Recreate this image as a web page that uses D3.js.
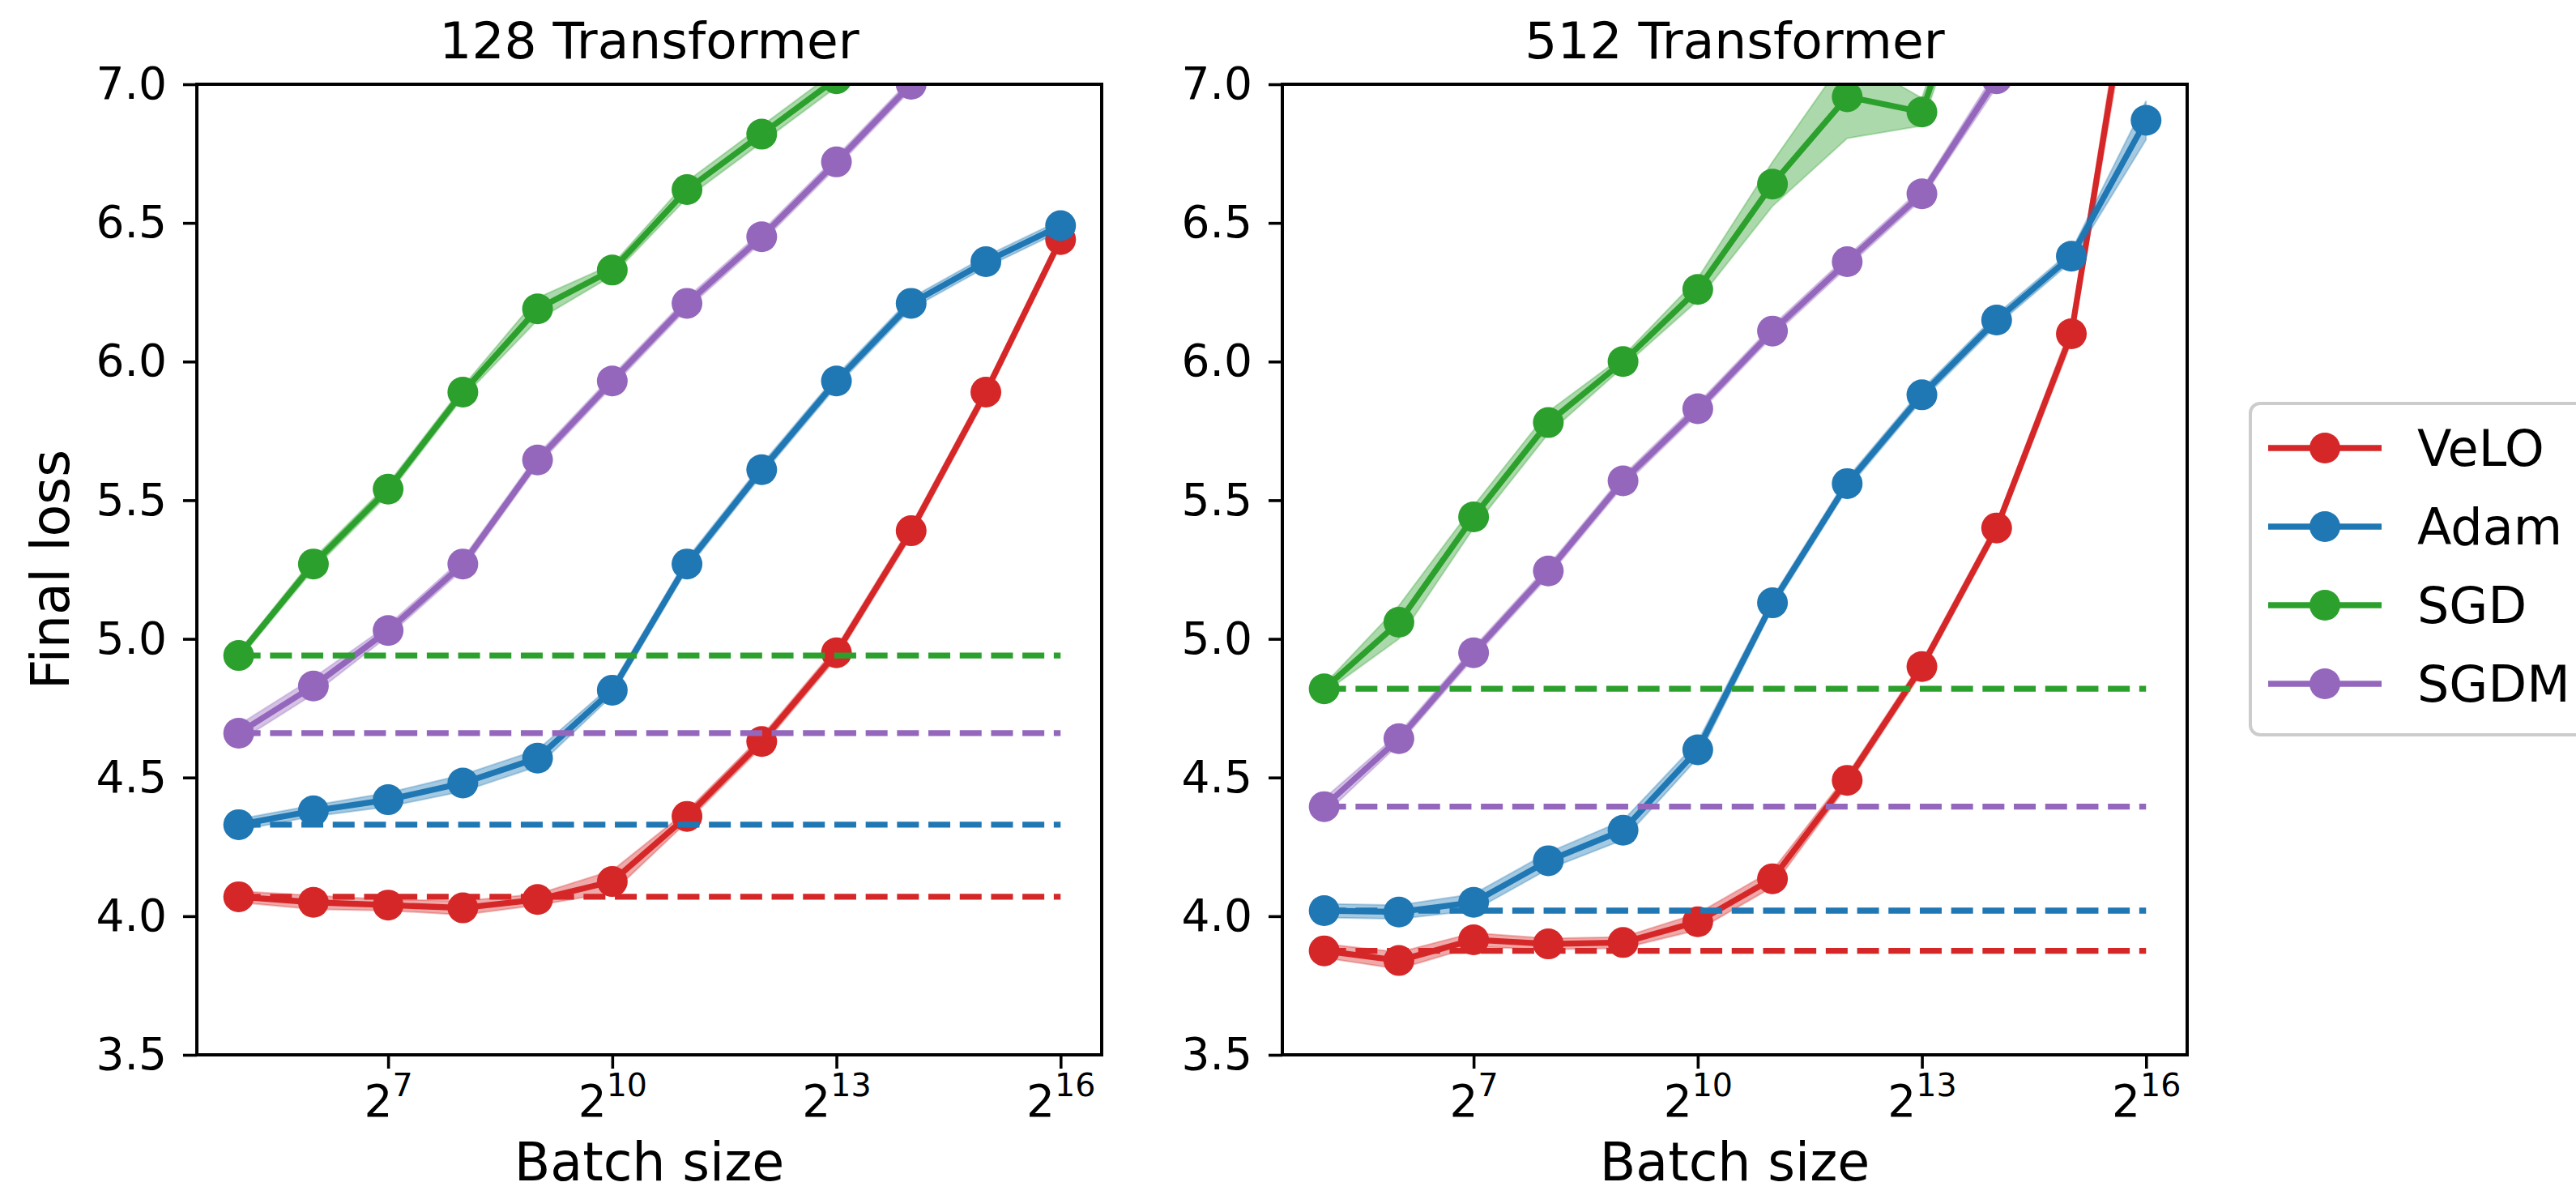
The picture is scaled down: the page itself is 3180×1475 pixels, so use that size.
<!DOCTYPE html>
<html>
<head>
<meta charset="utf-8">
<script src="https://cdn.jsdelivr.net/npm/d3@7"></script>
<style>
	body { margin: 0; background: #fff; }
	text { font-family: 'DejaVu Sans', sans-serif; fill: #000; }
</style>
</head>
<body>
<svg id="chart"></svg>
<script>
const width = 3180, height = 1475;

// batch sizes are powers of two: 2^5 ... 2^16
const batchExp = [5, 6, 7, 8, 9, 10, 11, 12, 13, 14, 15, 16];
const xTickExp = [7, 10, 13, 16];
const yTicks = [3.5, 4.0, 4.5, 5.0, 5.5, 6.0, 6.5, 7.0];

const seriesNames = ['VeLO', 'Adam', 'SGD', 'SGDM'];
const seriesColors = ['#d62728', '#1f77b4', '#2ca02c', '#9467bd'];
const panelTitles = ['128 Transformer', '512 Transformer'];

// final loss, 128 Transformer
const velo128 = [4.07, 4.05, 4.04, 4.03, 4.06, 4.125, 4.36, 4.63, 4.95, 5.39, 5.89, 6.44];
const adam128 = [4.33, 4.38, 4.42, 4.48, 4.57, 4.815, 5.27, 5.61, 5.93, 6.21, 6.36, 6.49];
const sgd128 = [4.94, 5.27, 5.54, 5.89, 6.19, 6.33, 6.62, 6.82, 7.02, 7.25, 7.5, 7.75];
const sgdm128 = [4.66, 4.83, 5.03, 5.27, 5.645, 5.93, 6.21, 6.45, 6.72, 7.0, 7.28, 7.55];

// final loss, 512 Transformer
const velo512 = [3.875, 3.84, 3.915, 3.9, 3.905, 3.98, 4.135, 4.49, 4.9, 5.4, 6.1, 7.75];
const adam512 = [4.02, 4.015, 4.05, 4.2, 4.31, 4.6, 5.13, 5.56, 5.88, 6.15, 6.38, 6.87];
const sgd512 = [4.82, 5.06, 5.44, 5.78, 6.0, 6.26, 6.64, 6.955, 6.9, 7.7, 8.0, 8.3];
const sgdm512 = [4.395, 4.64, 4.95, 5.245, 5.57, 5.83, 6.11, 6.36, 6.605, 7.02, 7.3, 7.6];

// half width of the seed band around each curve
const veloSpread128 = [0.02, 0.025, 0.02, 0.025, 0.02, 0.04, 0.02, 0.02, 0.02, 0.02, 0.02, 0.02];
const adamSpread128 = [0.02, 0.02, 0.025, 0.03, 0.03, 0.02, 0.02, 0.02, 0.02, 0.02, 0.02, 0.02];
const sgdSpread128 = [0.015, 0.02, 0.02, 0.02, 0.04, 0.02, 0.03, 0.03, 0.03, 0.03, 0.03, 0.03];
const sgdmSpread128 = [0.03, 0.03, 0.02, 0.02, 0.02, 0.02, 0.02, 0.02, 0.02, 0.02, 0.02, 0.02];

const veloSpread512 = [0.025, 0.03, 0.025, 0.02, 0.02, 0.03, 0.03, 0.02, 0.02, 0.02, 0.03, 0.1];
const adamSpread512 = [0.025, 0.025, 0.03, 0.03, 0.035, 0.03, 0.02, 0.02, 0.02, 0.02, 0.02, 0.07];
const sgdSpread512 = [0.015, 0.06, 0.04, 0.04, 0.02, 0.04, 0.08, 0.15, 0.05, 0.05, 0.05, 0.05];
const sgdmSpread512 = [0.03, 0.02, 0.02, 0.02, 0.02, 0.02, 0.02, 0.02, 0.02, 0.03, 0.03, 0.03];

const panelData = [
	[velo128, adam128, sgd128, sgdm128],
	[velo512, adam512, sgd512, sgdm512]
];
const panelSpread = [
	[veloSpread128, adamSpread128, sgdSpread128, sgdmSpread128],
	[veloSpread512, adamSpread512, sgdSpread512, sgdmSpread512]
];

// layout
const plotTop = 104, plotBottom = 1302, plotWidth = 1117;
const panelLefts = [243, 1583];
const lineWidth = 7.3, markerR = 19;
const tickFont = 55, labelFont = 65, titleFont = 63, legendFont = 62;

const svg = d3.select('#chart')
	.attr('width', width)
	.attr('height', height);

const yScale = d3.scaleLinear()
	.domain([3.5, 7.0])
	.range([plotBottom, plotTop]);

const drawPanel = (p) => {
	const left = panelLefts[p];
	const xScale = d3.scaleLog().base(2)
		.domain([Math.pow(2, 4.44), Math.pow(2, 16.55)])
		.range([left, left + plotWidth]);

	const g = svg.append('g').attr('class', 'panel');

	g.append('clipPath')
		.attr('id', 'clip' + p)
		.append('rect')
		.attr('x', left)
		.attr('y', plotTop)
		.attr('width', plotWidth)
		.attr('height', plotBottom - plotTop);

	const plot = g.append('g').attr('clip-path', `url(#clip${p})`);

	const area = d3.area()
		.x(d => xScale(Math.pow(2, d.e)))
		.y0(d => yScale(d.v - d.s))
		.y1(d => yScale(d.v + d.s));

	const line = d3.line()
		.x(d => xScale(Math.pow(2, d.e)))
		.y(d => yScale(d.v));

	seriesNames.forEach((name, i) => {
		const pts = batchExp.map((e, j) => ({ e: e, v: panelData[p][i][j], s: panelSpread[p][i][j] }));
		const color = seriesColors[i];

		plot.append('path')
			.datum(pts)
			.attr('d', area)
			.attr('fill', color)
			.attr('fill-opacity', 0.4)
			.attr('stroke', color)
			.attr('stroke-opacity', 0.3)
			.attr('stroke-width', 2);

		plot.append('path')
			.datum(pts)
			.attr('d', line)
			.attr('fill', 'none')
			.attr('stroke', color)
			.attr('stroke-width', lineWidth)
			.attr('stroke-linejoin', 'round');

		plot.selectAll('.dot' + i)
			.data(pts)
			.enter()
			.append('circle')
			.attr('cx', d => xScale(Math.pow(2, d.e)))
			.attr('cy', d => yScale(d.v))
			.attr('r', markerR)
			.attr('fill', color);
	});

	// baseline at the smallest batch size
	seriesNames.forEach((name, i) => {
		const base = panelData[p][i][0];
		plot.append('line')
			.attr('x1', xScale(Math.pow(2, batchExp[0])))
			.attr('x2', xScale(Math.pow(2, batchExp[batchExp.length - 1])))
			.attr('y1', yScale(base))
			.attr('y2', yScale(base))
			.attr('stroke', seriesColors[i])
			.attr('stroke-width', lineWidth)
			.attr('stroke-dasharray', '27 11.7');
	});

	// axes
	const xAxis = g.append('g')
		.attr('transform', `translate(0,${plotBottom})`)
		.call(d3.axisBottom(xScale)
			.tickValues(xTickExp.map(e => Math.pow(2, e)))
			.tickSize(17)
			.tickSizeOuter(0)
			.tickPadding(20));

	xAxis.selectAll('.tick text')
		.text(null)
		.attr('font-size', tickFont)
		.each(function(d) {
			const t = d3.select(this);
			t.append('tspan').text('2');
			t.append('tspan')
				.attr('font-size', tickFont * 0.72)
				.attr('dy', '-0.62em')
				.text(Math.round(Math.log2(d)));
		});

	const yAxis = g.append('g')
		.attr('transform', `translate(${left},0)`)
		.call(d3.axisLeft(yScale)
			.tickValues(yTicks)
			.tickFormat(d3.format('.1f'))
			.tickSize(17)
			.tickSizeOuter(0)
			.tickPadding(20));

	yAxis.selectAll('.tick text').attr('font-size', tickFont);

	[xAxis, yAxis].forEach(a => {
		a.select('.domain').remove();
		a.attr('font-family', null);
		a.selectAll('.tick line').attr('stroke', '#000').attr('stroke-width', 3.6);
	});

	// spines
	g.append('rect')
		.attr('x', left)
		.attr('y', plotTop)
		.attr('width', plotWidth)
		.attr('height', plotBottom - plotTop)
		.attr('fill', 'none')
		.attr('stroke', '#000')
		.attr('stroke-width', 4);

	g.append('text')
		.attr('x', left + plotWidth / 2)
		.attr('y', 72)
		.attr('text-anchor', 'middle')
		.attr('font-size', titleFont)
		.text(panelTitles[p]);

	g.append('text')
		.attr('x', left + plotWidth / 2)
		.attr('y', 1457)
		.attr('text-anchor', 'middle')
		.attr('font-size', labelFont)
		.text('Batch size');
};

drawPanel(0);
drawPanel(1);

svg.append('text')
	.attr('transform', `translate(85,${(plotTop + plotBottom) / 2}) rotate(-90)`)
	.attr('text-anchor', 'middle')
	.attr('font-size', labelFont)
	.text('Final loss');

// legend
const legend = svg.append('g').attr('class', 'legend');
legend.append('rect')
	.attr('x', 2778)
	.attr('y', 498)
	.attr('width', 520)
	.attr('height', 409)
	.attr('rx', 12)
	.attr('fill', '#fff')
	.attr('stroke', '#cccccc')
	.attr('stroke-width', 4);

const rows = legend.selectAll('.row')
	.data(seriesNames)
	.enter()
	.append('g')
	.attr('transform', (d, i) => `translate(0,${553 + i * 97})`);

rows.append('line')
	.attr('x1', 2800)
	.attr('x2', 2940)
	.attr('stroke', (d, i) => seriesColors[i])
	.attr('stroke-width', lineWidth);

rows.append('circle')
	.attr('cx', 2870)
	.attr('r', markerR)
	.attr('fill', (d, i) => seriesColors[i]);

rows.append('text')
	.attr('x', 2984)
	.attr('y', 22)
	.attr('font-size', legendFont)
	.text(d => d);
</script>
</body>
</html>
